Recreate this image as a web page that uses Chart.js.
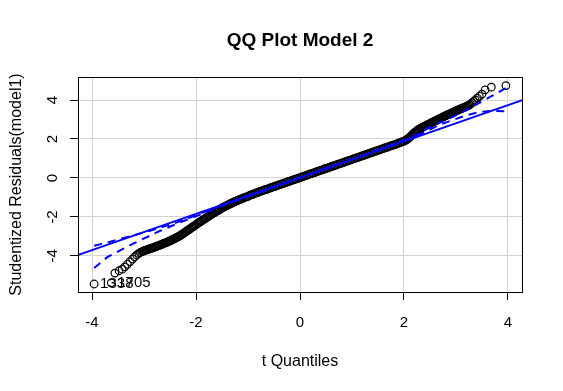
<!DOCTYPE html>
<html>
<head>
<meta charset="utf-8">
<title>QQ Plot Model 2</title>
<script src="https://cdn.jsdelivr.net/npm/chart.js@4.4.1/dist/chart.umd.min.js"></script>
<style>
  html, body { margin: 0; padding: 0; background: #fff; }
  canvas { display: block; }
</style>
</head>
<body>
<canvas id="chart" width="563" height="391"></canvas>
<script>
// t quantiles (x) and sorted studentized residuals (y)
// lower tail, sparse circles
const tailLoX = [-3.96, -3.63, -3.56, -3.48, -3.42, -3.37, -3.32, -3.27, -3.22, -3.18, -3.14, -3.10, -3.07];
const tailLoY = [-5.44, -5.38, -4.88, -4.76, -4.68, -4.56, -4.43, -4.29, -4.16, -4.05, -3.95, -3.87, -3.82];
// lower dense band
const bandLoX = [
  -3.04, -3.02, -3.00, -2.98, -2.96, -2.94, -2.92, -2.90, -2.88, -2.86, -2.84, -2.82, -2.80, -2.78, -2.76, -2.74, -2.72,
  -2.70, -2.68, -2.66, -2.64, -2.62, -2.60, -2.58, -2.56, -2.54, -2.52,
  -2.50, -2.48, -2.46, -2.44, -2.42, -2.40, -2.38, -2.36, -2.34, -2.32,
  -2.30, -2.28, -2.26, -2.24, -2.22, -2.20, -2.18, -2.16, -2.14, -2.12,
  -2.10, -2.08, -2.06, -2.04, -2.02, -2.00, -1.98, -1.96, -1.94, -1.92,
  -1.90, -1.88, -1.86, -1.84, -1.82, -1.80, -1.78, -1.76, -1.74, -1.72,
  -1.70, -1.68, -1.66, -1.64, -1.62, -1.60, -1.58, -1.56, -1.54, -1.52,
  -1.50, -1.48, -1.46, -1.44, -1.42, -1.40, -1.38, -1.36, -1.34, -1.32,
  -1.30, -1.28, -1.26, -1.24, -1.22, -1.20, -1.18, -1.16, -1.14, -1.12
];
const bandLoY = [
  -3.78, -3.76, -3.74, -3.72, -3.70, -3.68, -3.66, -3.64, -3.63, -3.61, -3.59, -3.57, -3.55, -3.53, -3.51, -3.49, -3.47,
  -3.45, -3.43, -3.41, -3.38, -3.36, -3.34, -3.32, -3.30, -3.27, -3.25,
  -3.23, -3.20, -3.17, -3.15, -3.12, -3.09, -3.06, -3.03, -3.01, -2.98,
  -2.95, -2.91, -2.88, -2.84, -2.80, -2.77, -2.73, -2.69, -2.65, -2.62,
  -2.58, -2.54, -2.51, -2.47, -2.43, -2.40, -2.36, -2.32, -2.28, -2.25,
  -2.21, -2.18, -2.14, -2.11, -2.07, -2.04, -2.00, -1.97, -1.93, -1.90,
  -1.86, -1.83, -1.80, -1.76, -1.73, -1.70, -1.67, -1.64, -1.61, -1.57,
  -1.54, -1.51, -1.49, -1.46, -1.43, -1.40, -1.38, -1.35, -1.32, -1.30,
  -1.27, -1.25, -1.22, -1.20, -1.18, -1.15, -1.13, -1.11, -1.09, -1.06
];
// middle, on the line
const midX = [
  -1.09, -1.06, -1.03, -1.00, -0.97, -0.94, -0.91, -0.88, -0.85, -0.82, -0.79, -0.76, -0.73, -0.70, -0.67,
  -0.64, -0.61, -0.58, -0.55, -0.52, -0.49, -0.46, -0.43, -0.40, -0.37, -0.34, -0.31, -0.28, -0.25, -0.22,
  -0.19, -0.16, -0.13, -0.10, -0.07, -0.04, -0.01, 0.02, 0.05, 0.08, 0.11, 0.14, 0.17, 0.20, 0.23,
  0.26, 0.29, 0.32, 0.35, 0.38, 0.41, 0.44, 0.47, 0.50, 0.53, 0.56, 0.59, 0.62, 0.65, 0.68,
  0.71, 0.74, 0.77, 0.80, 0.83, 0.86, 0.89, 0.92, 0.95, 0.98, 1.01, 1.04, 1.07, 1.10, 1.13,
  1.16, 1.19, 1.22, 1.25, 1.28, 1.31, 1.34, 1.37, 1.40, 1.43, 1.46, 1.49, 1.52, 1.55, 1.58,
  1.61, 1.64, 1.67, 1.70, 1.73, 1.76, 1.79, 1.82, 1.85, 1.88, 1.91, 1.94, 1.97, 2.00, 2.03
];
const midY = [
  -1.03, -1.00, -0.97, -0.94, -0.90, -0.87, -0.84, -0.81, -0.78, -0.75, -0.72, -0.69, -0.66, -0.63, -0.60,
  -0.58, -0.55, -0.52, -0.49, -0.46, -0.44, -0.41, -0.38, -0.35, -0.32, -0.30, -0.27, -0.24, -0.21, -0.18,
  -0.16, -0.13, -0.10, -0.07, -0.05, -0.02, 0.01, 0.04, 0.07, 0.09, 0.12, 0.15, 0.18, 0.21, 0.23,
  0.26, 0.29, 0.32, 0.35, 0.37, 0.40, 0.43, 0.46, 0.49, 0.51, 0.54, 0.57, 0.60, 0.62, 0.65,
  0.68, 0.71, 0.74, 0.76, 0.79, 0.82, 0.85, 0.88, 0.90, 0.93, 0.96, 0.99, 1.02, 1.04, 1.07,
  1.10, 1.13, 1.15, 1.18, 1.21, 1.24, 1.27, 1.29, 1.32, 1.35, 1.38, 1.41, 1.43, 1.46, 1.49,
  1.52, 1.55, 1.57, 1.60, 1.63, 1.66, 1.69, 1.71, 1.74, 1.77, 1.80, 1.83, 1.86, 1.89, 1.93
];
// upper dense band
const bandUpX = [
  2.05, 2.07, 2.09, 2.11, 2.13, 2.15, 2.17, 2.19, 2.21, 2.23, 2.25, 2.27, 2.29,
  2.31, 2.33, 2.35, 2.37, 2.39, 2.41, 2.43, 2.45, 2.47, 2.49, 2.51, 2.53, 2.55, 2.57, 2.59,
  2.61, 2.63, 2.65, 2.67, 2.69, 2.71, 2.73, 2.75, 2.77, 2.79, 2.81, 2.83, 2.85, 2.87, 2.89,
  2.91, 2.93, 2.95, 2.97, 2.99, 3.01, 3.03, 3.05, 3.07, 3.09, 3.11, 3.13, 3.15, 3.17, 3.19,
  3.21, 3.23, 3.25
];
const bandUpY = [
  1.97, 2.00, 2.04, 2.09, 2.14, 2.19, 2.25, 2.30, 2.34, 2.38, 2.43, 2.47, 2.50,
  2.53, 2.56, 2.59, 2.62, 2.65, 2.67, 2.70, 2.73, 2.75, 2.78, 2.81, 2.84, 2.86, 2.89, 2.92,
  2.94, 2.97, 3.00, 3.02, 3.05, 3.07, 3.10, 3.13, 3.15, 3.18, 3.20, 3.23, 3.25, 3.28, 3.30,
  3.33, 3.35, 3.38, 3.40, 3.43, 3.45, 3.47, 3.50, 3.52, 3.54, 3.57, 3.59, 3.61, 3.63, 3.66,
  3.68, 3.71, 3.74
];
// upper tail, sparse circles
const tailUpX = [3.28, 3.31, 3.34, 3.37, 3.41, 3.45, 3.50, 3.56, 3.68, 3.96];
const tailUpY = [3.79, 3.86, 3.93, 4.00, 4.10, 4.19, 4.30, 4.52, 4.66, 4.74];

// the two labelled observations (indexes into the full series)
const labelIdx = [0, 1];
const labelText = ['1338', '1705'];

// fitted reference line
const lineX = [-4.4, 4.4];
const lineY = [-4.07, 4.11];

// simulated confidence envelope
const envX  = [-3.96, -3.70, -3.45, -3.20, -2.95, -2.70, -2.45, -2.20, -1.90, -1.50, -1.00, 0.00,
               1.00, 1.50, 1.90, 2.20, 2.45, 2.70, 2.95, 3.20, 3.45, 3.70, 3.96];
const envUp = [-3.48, -3.31, -3.12, -2.94, -2.76, -2.56, -2.35, -2.12, -1.80, -1.40, -0.92, 0.03,
               0.97, 1.45, 1.86, 2.16, 2.55, 2.85, 3.15, 3.49, 3.85, 4.22, 4.62];
const envLo = [-4.62, -4.05, -3.70, -3.36, -3.04, -2.72, -2.44, -2.17, -1.86, -1.43, -0.95, 0.00,
               0.94, 1.41, 1.80, 2.10, 2.42, 2.75, 2.98, 3.22, 3.38, 3.44, 3.42];

const xTicks = [-4, -2, 0, 2, 4];
const yTicks = [-4, -2, 0, 2, 4];

const qx = tailLoX.concat(bandLoX, midX, bandUpX, tailUpX);
const qy = tailLoY.concat(bandLoY, midY, bandUpY, tailUpY);

const FONT = '"Liberation Sans", Arial, Helvetica, sans-serif';
Chart.defaults.font.family = FONT;
Chart.defaults.color = '#000';

function pts(xs, ys) {
    return xs.map(function (v, i) { return { x: v, y: ys[i] }; });
}

const extras = {
    id: 'extras',
    afterDatasetsDraw(chart) {
        const ctx = chart.ctx;
        const a = chart.chartArea;
        const x = chart.scales.x;
        const y = chart.scales.y;
        ctx.save();
        ctx.font = '15px ' + FONT;
        ctx.fillStyle = '#000';
        ctx.textAlign = 'left';
        ctx.textBaseline = 'middle';
        labelIdx.forEach(function (k, i) {
            ctx.fillText(labelText[i], x.getPixelForValue(qx[k]) + 6, y.getPixelForValue(qy[k]));
        });
        ctx.strokeStyle = '#000';
        ctx.lineWidth = 1;
        ctx.strokeRect(a.left + 0.5, a.top + 0.5, a.right - a.left, a.bottom - a.top);
        ctx.font = 'bold 19px ' + FONT;
        ctx.textAlign = 'center';
        ctx.fillText('QQ Plot Model 2', (a.left + a.right) / 2, 41);
        ctx.restore();
    }
};

const gridOpts = { color: '#d3d3d3', lineWidth: 1, tickColor: '#000', tickLength: 8 };

new Chart(document.getElementById('chart'), {
    type: 'scatter',
    data: {
        datasets: [
            {
                label: 'upper', data: pts(envX, envUp), showLine: true, order: 0,
                borderColor: '#0000ff', borderWidth: 2, borderDash: [8, 6], pointRadius: 0, fill: false
            },
            {
                label: 'lower', data: pts(envX, envLo), showLine: true, order: 0,
                borderColor: '#0000ff', borderWidth: 2, borderDash: [8, 6], pointRadius: 0, fill: false
            },
            {
                label: 'line', data: pts(lineX, lineY), showLine: true, order: 1,
                borderColor: '#0000ff', borderWidth: 2, pointRadius: 0, fill: false
            },
            {
                label: 'residuals', data: pts(qx, qy), order: 2,
                pointRadius: 3.8, borderWidth: 1.2, borderColor: '#000',
                backgroundColor: 'rgba(0,0,0,0)'
            }
        ]
    },
    options: {
        responsive: false,
        animation: false,
        devicePixelRatio: 1,
        layout: { padding: { top: 77, right: 41, left: 0, bottom: 0 } },
        plugins: { legend: { display: false }, tooltip: { enabled: false } },
        scales: {
            x: {
                type: 'linear', position: 'bottom', min: -4.27, max: 4.27,
                afterBuildTicks: function (s) { s.ticks = xTicks.map(function (v) { return { value: v }; }); },
                afterFit: function (s) { s.height = 99; },
                ticks: { autoSkip: false, maxRotation: 0, font: { size: 15 }, padding: 14 },
                grid: gridOpts,
                border: { display: true, color: '#000' },
                title: { display: true, text: 't Quantiles', font: { size: 16 }, padding: { top: 0, bottom: 20 } }
            },
            y: {
                type: 'linear', position: 'left', min: -5.85, max: 5.18,
                afterBuildTicks: function (s) { s.ticks = yTicks.map(function (v) { return { value: v }; }); },
                afterFit: function (s) { s.width = 78; },
                ticks: { autoSkip: false, minRotation: 90, maxRotation: 90, crossAlign: 'center', font: { size: 15 }, padding: 10 },
                grid: gridOpts,
                border: { display: true, color: '#000' },
                title: { display: true, text: 'Studentized Residuals(model1)', font: { size: 16 }, padding: { top: 7, bottom: 0 } }
            }
        }
    },
    plugins: [extras]
});
</script>
</body>
</html>
